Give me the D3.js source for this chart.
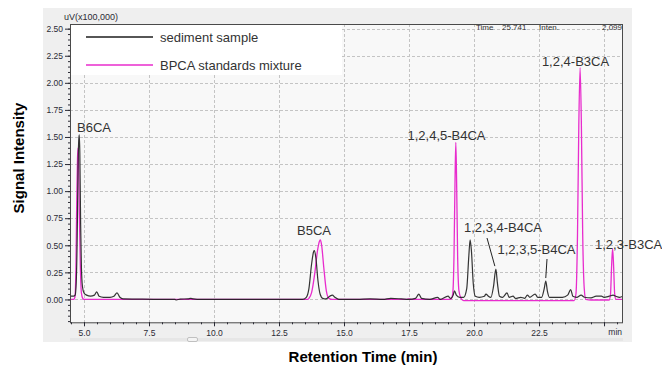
<!DOCTYPE html>
<html>
<head>
<meta charset="utf-8">
<script src="https://cdn.jsdelivr.net/npm/d3@7"></script>
<style>
  html, body { margin: 0; padding: 0; background: #ffffff; }
  svg { display: block; font-family: Arial, "Liberation Sans", sans-serif; }
</style>
</head>
<body>
<svg id="chart" width="662" height="367"></svg>
<script>
// Chromatogram traces: [retention time (min), signal (uV x 100,000)]
const sedimentTrace = [
  [4.46, 0.03], [4.60, 0.03], [4.66, 0.04], [4.70, 0.15], [4.74, 0.60], [4.77, 1.20],
  [4.80, 1.48], [4.82, 1.52], [4.84, 1.35], [4.87, 0.70], [4.90, 0.30], [4.94, 0.12],
  [5.00, 0.06], [5.10, 0.04], [5.25, 0.03], [5.40, 0.04], [5.49, 0.07], [5.58, 0.03],
  [5.75, 0.02], [6.00, 0.02], [6.15, 0.03], [6.27, 0.06], [6.38, 0.02], [6.50, 0.005],
  [7.00, 0.003], [8.00, 0.0], [8.50, 0.0], [8.55, -0.005], [8.70, 0.003], [9.00, 0.005],
  [9.10, 0.01], [9.20, 0.005], [9.50, 0.0], [10.0, 0.0], [12.0, 0.0], [13.4, 0.0],
  [13.55, 0.02], [13.65, 0.10], [13.75, 0.32], [13.83, 0.44], [13.86, 0.45], [13.92, 0.38],
  [14.00, 0.17], [14.08, 0.05], [14.18, 0.01], [14.30, 0.005], [14.45, 0.03], [14.55, 0.04],
  [14.65, 0.02], [14.80, 0.0], [15.0, 0.0], [15.5, 0.0], [16.0, 0.005], [16.5, 0.0],
  [16.8, 0.01], [17.2, 0.005], [17.5, 0.0], [17.75, 0.01], [17.88, 0.05], [17.98, 0.01],
  [18.3, 0.0], [18.6, 0.02], [18.7, 0.0], [19.0, 0.03], [19.1, 0.01], [19.2, 0.04],
  [19.25, 0.08], [19.32, 0.04], [19.45, 0.02], [19.6, 0.02], [19.72, 0.10], [19.80, 0.40],
  [19.85, 0.55], [19.90, 0.45], [19.97, 0.15], [20.05, 0.03], [20.2, 0.02], [20.4, 0.03],
  [20.46, 0.05], [20.55, 0.03], [20.65, 0.02], [20.75, 0.12], [20.84, 0.28], [20.90, 0.15],
  [20.98, 0.03], [21.1, 0.02], [21.27, 0.06], [21.35, 0.02], [21.5, 0.03], [21.6, 0.01],
  [21.8, 0.02], [21.95, 0.01], [22.05, 0.04], [22.15, 0.02], [22.35, 0.05], [22.45, 0.02],
  [22.6, 0.02], [22.70, 0.10], [22.76, 0.17], [22.82, 0.08], [22.9, 0.02], [23.2, 0.02],
  [23.4, 0.02], [23.6, 0.04], [23.72, 0.09], [23.8, 0.03], [23.95, 0.02], [24.12, 0.04],
  [24.25, 0.02], [24.5, 0.015], [24.7, 0.03], [24.9, 0.03], [25.0, 0.02], [25.2, 0.03],
  [25.35, 0.04], [25.45, 0.03], [25.6, 0.02], [25.73, 0.03]
];

const standardsTrace = [
  [4.46, 0.0], [4.60, 0.0], [4.65, 0.02], [4.69, 0.30], [4.72, 0.90], [4.75, 1.30],
  [4.77, 1.40], [4.79, 1.30], [4.82, 0.80], [4.86, 0.30], [4.90, 0.06], [4.95, 0.01],
  [5.00, 0.0], [8.0, 0.0], [13.6, 0.0], [13.65, 0.01], [13.75, 0.06], [13.88, 0.25],
  [13.98, 0.45], [14.06, 0.54], [14.09, 0.55], [14.14, 0.50], [14.22, 0.30], [14.32, 0.08],
  [14.42, 0.01], [14.55, 0.0], [17.4, 0.0], [17.5, 0.005], [17.6, 0.0], [19.1, 0.0],
  [19.18, 0.05], [19.23, 0.40], [19.27, 1.10], [19.30, 1.45], [19.33, 1.10], [19.37, 0.40],
  [19.42, 0.08], [19.5, 0.01], [19.6, -0.01], [21.0, -0.01], [23.85, -0.01], [23.92, 0.05],
  [23.98, 0.60], [24.03, 1.60], [24.08, 2.14], [24.13, 1.60], [24.18, 0.60], [24.24, 0.10],
  [24.30, 0.0], [24.5, -0.005], [25.2, -0.005], [25.25, 0.05], [25.29, 0.30], [25.33, 0.47],
  [25.37, 0.30], [25.41, 0.05], [25.46, 0.0], [25.73, 0.0]
];

const seriesNames = ["sediment sample", "BPCA standards mixture"];
const xTickValues = [5, 7.5, 10, 12.5, 15, 17.5, 20, 22.5, 25];
const xTickLabels = ["5.0", "7.5", "10.0", "12.5", "15.0", "17.5", "20.0", "22.5", ""];
const yTickValues = [0, 0.25, 0.5, 0.75, 1.0, 1.25, 1.5, 1.75, 2.0, 2.25, 2.5];

// Peak annotations: name, retention time, signal at the apex
const peakNames = ["B6CA", "B5CA", "1,2,4,5-B4CA", "1,2,3,4-B4CA", "1,2,3,5-B4CA", "1,2,4-B3CA", "1,2,3-B3CA"];
const peakTimes = [4.82, 14.09, 19.30, 20.84, 22.76, 24.08, 25.33];
const peakSignals = [1.52, 0.55, 1.45, 0.28, 0.17, 2.14, 0.47];

const colors = { sediment: "#1e1e1e", standards: "#e82ccd" };

const svg = d3.select("#chart");
const plot = { left: 70, right: 623, top: 24, bottom: 322.3 };

const x = d3.scaleLinear().domain([4.4615, 25.73]).range([plot.left, plot.right]);
const y = d3.scaleLinear().domain([-0.211, 2.543]).range([plot.bottom, plot.top]);

// Instrument-window style panel
svg.append("rect").attr("x", 43).attr("y", 8).attr("width", 589).attr("height", 334)
  .attr("fill", "#efefef");
svg.append("rect").attr("x", plot.left).attr("y", plot.top)
  .attr("width", plot.right - plot.left).attr("height", plot.bottom - plot.top)
  .attr("fill", "#f8f8f8");

// Legend background (white box at the top left of the plot area)
svg.append("rect").attr("x", plot.left).attr("y", plot.top)
  .attr("width", 272).attr("height", 51).attr("fill", "#ffffff");

// Dashed grid
const grid = svg.append("g").attr("stroke", "#c4c4c4").attr("stroke-width", 1)
  .attr("stroke-dasharray", "3,2").attr("fill", "none");
grid.selectAll("line.v").data(xTickValues).join("line").attr("class", "v")
  .attr("x1", d => Math.round(x(d)) + 0.5).attr("x2", d => Math.round(x(d)) + 0.5)
  .attr("y1", plot.top).attr("y2", plot.bottom)
  .attr("y1", d => x(d) < 342 ? plot.top + 51 : plot.top);
grid.selectAll("line.h").data(yTickValues).join("line").attr("class", "h")
  .attr("x1", d => y(d) < plot.top + 51 ? plot.left + 272 : plot.left).attr("x2", plot.right)
  .attr("y1", d => Math.round(y(d)) + 0.5).attr("y2", d => Math.round(y(d)) + 0.5);

// Traces
svg.append("clipPath").attr("id", "plotClip").append("rect")
  .attr("x", plot.left).attr("y", plot.top)
  .attr("width", plot.right - plot.left).attr("height", plot.bottom - plot.top);

const line = d3.line().x(d => x(d[0])).y(d => y(d[1])).curve(d3.curveMonotoneX);
const traces = svg.append("g").attr("clip-path", "url(#plotClip)").attr("fill", "none");
traces.append("path").datum(standardsTrace).attr("d", line)
  .attr("stroke", colors.standards).attr("stroke-width", 1.3);
traces.append("path").datum(sedimentTrace).attr("d", line)
  .attr("stroke", colors.sediment).attr("stroke-width", 1.2).attr("stroke-opacity", 0.9);

// Frame
svg.append("rect").attr("x", plot.left + 0.5).attr("y", plot.top + 0.5)
  .attr("width", plot.right - plot.left - 1).attr("height", plot.bottom - plot.top)
  .attr("fill", "none").attr("stroke", "#4a4a4a").attr("stroke-width", 1);

// Axes
const tickColor = "#2b2b35";
const yMinor = d3.range(-0.2, 2.5001, 0.05).map(v => +v.toFixed(2));
const xMinor = d3.range(4.5, 25.7, 0.5).map(v => +v.toFixed(1));

const yAxisMinor = svg.append("g").attr("transform", `translate(${plot.left},0)`)
  .call(d3.axisLeft(y).tickValues(yMinor).tickSize(2).tickFormat(""));
const yAxis = svg.append("g").attr("transform", `translate(${plot.left},0)`)
  .call(d3.axisLeft(y).tickValues(yTickValues).tickSize(5).tickPadding(2)
    .tickFormat(d3.format(".2f")));
const xAxisMinor = svg.append("g").attr("transform", `translate(0,${plot.bottom})`)
  .call(d3.axisBottom(x).tickValues(xMinor).tickSize(2).tickFormat(""));
const xAxis = svg.append("g").attr("transform", `translate(0,${plot.bottom})`)
  .call(d3.axisBottom(x).tickValues(xTickValues).tickSize(4).tickPadding(4)
    .tickFormat((d, i) => xTickLabels[i]));

[yAxisMinor, yAxis, xAxisMinor, xAxis].forEach(g => {
  g.select(".domain").remove();
  g.selectAll("line").attr("stroke", tickColor);
  g.selectAll("text").attr("fill", tickColor).attr("font-size", 8.5)
    .attr("font-family", "Arial, 'Liberation Sans', sans-serif");
});

svg.append("text").attr("x", plot.right - 1).attr("y", 335).attr("text-anchor", "end")
  .attr("font-size", 8.5).attr("fill", tickColor).text("min");

// Instrument header texts
svg.append("text").attr("x", 64).attr("y", 19.5).attr("font-size", 9)
  .attr("fill", tickColor).text("uV(x100,000)");
const header = svg.append("g").attr("font-size", 8).attr("fill", "#333");
header.append("text").attr("x", 476).attr("y", 30).text("Time");
header.append("text").attr("x", 502).attr("y", 30).text("25.741");
header.append("text").attr("x", 539).attr("y", 30).text("Inten.");
header.append("text").attr("x", 622).attr("y", 30).attr("text-anchor", "end").text("2,099");

// Scrollbar strip under the plot
svg.append("rect").attr("x", 70).attr("y", 338).attr("width", 553).attr("height", 3)
  .attr("fill", "#e6e6e6");
svg.append("rect").attr("x", 187.5).attr("y", 337.5).attr("width", 10).attr("height", 4)
  .attr("rx", 1.5).attr("fill", "#f4f4f4").attr("stroke", "#c0c0c0");

// Legend
const legend = svg.append("g");
seriesNames.forEach((name, i) => {
  const ly = 37 + i * 28;
  legend.append("line").attr("x1", 86).attr("x2", 153).attr("y1", ly).attr("y2", ly)
    .attr("stroke", i === 0 ? colors.sediment : colors.standards).attr("stroke-width", 1.6);
  legend.append("text").attr("x", 160).attr("y", ly + 4.5).attr("font-size", 13)
    .attr("fill", "#333").text(name);
});

// Peak labels
const labelPos = [
  { dx: 0, y: 132, anchor: "start", xAbs: 77 },
  { y: 235, anchor: "middle", xAbs: 314 },
  { y: 140, anchor: "middle", xAbs: 446.5 },
  { y: 232, anchor: "middle", xAbs: 503 },
  { y: 254, anchor: "middle", xAbs: 536.5 },
  { y: 66, anchor: "middle", xAbs: 575.5 },
  { y: 249, anchor: "start", xAbs: 595 }
];
const labels = svg.append("g").attr("font-size", 13).attr("fill", "#333");
peakNames.forEach((name, i) => {
  labels.append("text").attr("x", labelPos[i].xAbs).attr("y", labelPos[i].y)
    .attr("text-anchor", labelPos[i].anchor).text(name);
});

// Leader lines for the two small sediment peaks
const leaders = svg.append("g").attr("stroke", "#222").attr("stroke-width", 1);
leaders.append("line").attr("x1", 487).attr("y1", 238)
  .attr("x2", x(peakTimes[3]) - 1).attr("y2", y(peakSignals[3]) - 3);
leaders.append("line").attr("x1", 547).attr("y1", 259)
  .attr("x2", x(peakTimes[4])).attr("y2", y(peakSignals[4]) - 3);

// Axis titles
svg.append("text").attr("transform", "translate(24,158) rotate(-90)")
  .attr("text-anchor", "middle").attr("font-size", 15).attr("font-weight", "bold")
  .attr("fill", "#000").text("Signal Intensity");
svg.append("text").attr("x", 363).attr("y", 362).attr("text-anchor", "middle")
  .attr("font-size", 15).attr("font-weight", "bold").attr("fill", "#000")
  .text("Retention Time (min)");
</script>
</body>
</html>
